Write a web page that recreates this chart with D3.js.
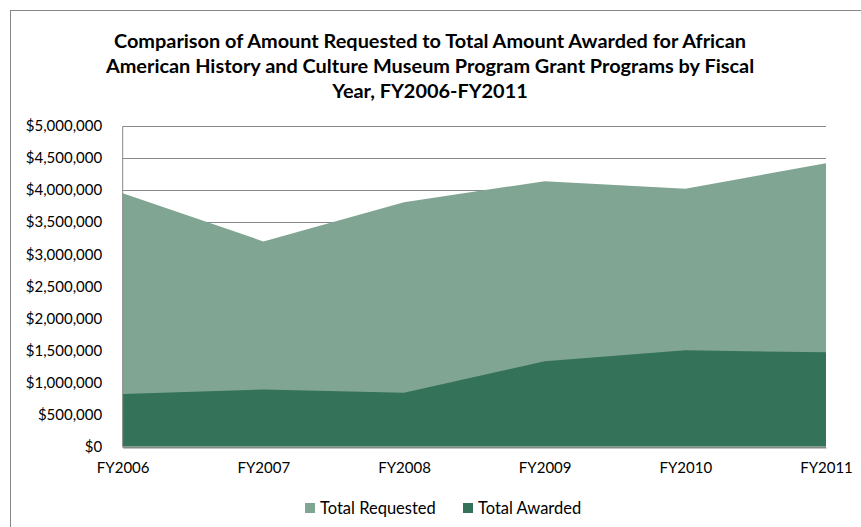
<!DOCTYPE html>
<html>
<head>
<meta charset="utf-8">
<script src="https://cdn.jsdelivr.net/npm/d3@7"></script>
<style>
  body { margin: 0; background: #fff; }
  text { font-family: Lato, "Open Sans", sans-serif; fill: #000; }
</style>
</head>
<body>
<div id="chart"></div>
<script>
// fiscal years and the two series (dollars)
var years = ["FY2006", "FY2007", "FY2008", "FY2009", "FY2010", "FY2011"];
var requested = [3950000, 3200000, 3810000, 4140000, 4020000, 4420000];
var awarded = [820000, 890000, 840000, 1330000, 1500000, 1470000];
var yTicks = [0, 500000, 1000000, 1500000, 2000000, 2500000, 3000000, 3500000, 4000000, 4500000, 5000000];
var titleLines = ["Comparison of Amount Requested to Total Amount Awarded for African",
                  "American History and Culture Museum Program Grant Programs by Fiscal",
                  "Year, FY2006-FY2011"];
var seriesNames = ["Total Requested", "Total Awarded"];
var colors = ["#80a593", "#35725a"];

var width = 861, height = 527;
var margin = {top: 126, right: 35, bottom: 80.5, left: 122.7};

var svg = d3.select("#chart").append("svg")
	.attr("width", width)
	.attr("height", height);

// outer chart frame
svg.append("rect")
	.attr("x", 10.5).attr("y", 10.5)
	.attr("width", 870).attr("height", 540)
	.attr("fill", "none")
	.attr("stroke", "#868686");

var x = d3.scalePoint()
	.domain(years)
	.range([margin.left, width - margin.right]);

var y = d3.scaleLinear()
	.domain([0, 5000000])
	.range([height - margin.bottom, margin.top]);

var fmt = function(d) { return "$" + d3.format(",")(d); };

// gridlines
svg.append("g")
	.selectAll("line")
	.data(yTicks)
	.enter()
	.append("line")
	.attr("x1", margin.left).attr("x2", width - margin.right)
	.attr("y1", function(d) { return Math.round(y(d)) + 0.5; })
	.attr("y2", function(d) { return Math.round(y(d)) + 0.5; })
	.attr("stroke", "#888")
	.attr("stroke-width", 1);

var data = years.map(function(d, i) {
	return {year: d, req: requested[i], awd: awarded[i]};
});

var areaReq = d3.area()
	.x(function(d) { return x(d.year); })
	.y0(y(0))
	.y1(function(d) { return y(d.req); });

var areaAwd = d3.area()
	.x(function(d) { return x(d.year); })
	.y0(y(0))
	.y1(function(d) { return y(d.awd); });

svg.append("path")
	.datum(data)
	.attr("d", areaReq)
	.attr("fill", colors[0]);

svg.append("path")
	.datum(data)
	.attr("d", areaAwd)
	.attr("fill", colors[1]);

// y axis
var yAxis = d3.axisLeft(y)
	.tickValues(yTicks)
	.tickFormat(fmt)
	.tickSize(0)
	.tickPadding(20);

var gy = svg.append("g")
	.attr("transform", "translate(" + (margin.left - 0.5) + ",0)")
	.call(yAxis);
gy.select(".domain").attr("stroke", "#888");
gy.selectAll("text")
	.style("font-family", "Lato, sans-serif")
	.style("font-size", "15px")
	.attr("fill", "#000");

// x axis
var xAxis = d3.axisBottom(x)
	.tickSize(0)
	.tickPadding(15);

var gx = svg.append("g")
	.attr("transform", "translate(0," + (Math.round(y(0)) + 0.5) + ")")
	.call(xAxis);
gx.select(".domain").attr("stroke", "#888");
gx.selectAll("text")
	.style("font-family", "Lato, sans-serif")
	.style("font-size", "15px")
	.attr("fill", "#000");

// title
svg.append("g")
	.selectAll("text")
	.data(titleLines)
	.enter()
	.append("text")
	.attr("x", 430)
	.attr("y", function(d, i) { return 47.5 + i * 25; })
	.attr("text-anchor", "middle")
	.style("font-weight", "bold")
	.style("font-size", "19.9px")
	.text(function(d) { return d; });

// legend
var legendX = [305, 463];
var leg = svg.append("g")
	.selectAll("g")
	.data(seriesNames)
	.enter()
	.append("g")
	.attr("transform", function(d, i) { return "translate(" + legendX[i] + ",503)"; });

leg.append("rect")
	.attr("width", 10).attr("height", 10)
	.attr("fill", function(d, i) { return colors[i]; });

leg.append("text")
	.attr("x", 15)
	.attr("y", 11)
	.style("font-size", "16.5px")
	.text(function(d) { return d; });
</script>
</body>
</html>
